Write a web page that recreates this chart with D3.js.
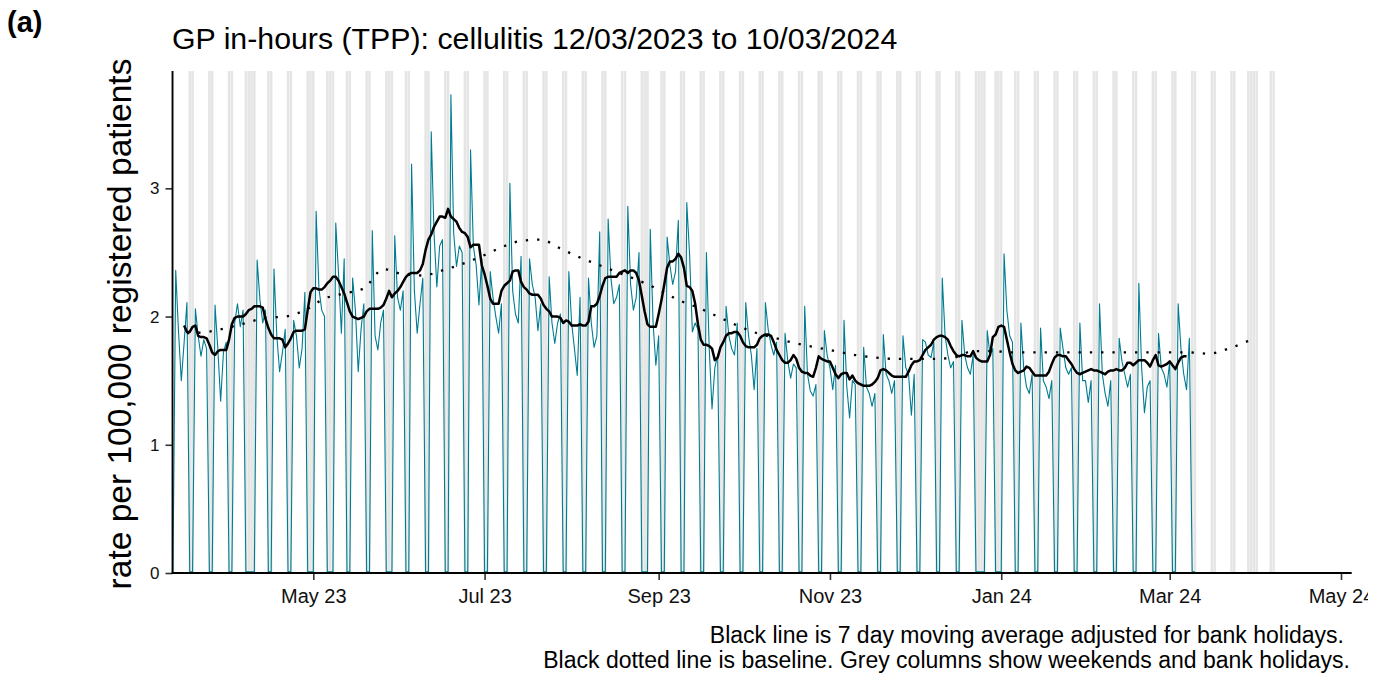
<!DOCTYPE html>
<html><head><meta charset="utf-8">
<script src="https://cdn.jsdelivr.net/npm/d3@7"></script>
<style>
body{margin:0;background:#fff}
svg{display:block}
text{font-family:"Liberation Sans",Arial,Helvetica,sans-serif}
</style>
</head><body>
<svg id="chart" width="1391" height="675"></svg>
<script>
// ---------------- DATA ----------------
const startDate = "2023-03-12";   // first day of daily series (Sunday)
// daily rate per 100,000 (Mon..Sun rows after the first Sunday); weekends & bank holidays ~0
const dailyRate = [
  0.01,
  2.36,1.88,1.50,1.80,2.11,0.01,0.01,
  2.06,1.85,1.69,1.82,1.75,0.01,0.01,
  2.09,1.75,1.34,1.72,1.80,0.01,0.01,
  1.95,2.10,1.92,2.05,0.01,0.01,0.01,
  0.01,2.44,2.13,1.95,2.05,0.01,0.01,
  2.37,1.85,1.57,1.72,1.90,0.01,0.01,
  1.97,1.85,1.60,1.75,2.19,0.01,0.01,
  0.01,2.82,2.22,2.05,2.00,0.01,0.01,
  0.01,2.73,2.33,1.87,2.45,0.01,0.01,
  2.30,2.05,1.57,1.90,2.10,0.01,0.01,
  2.67,1.85,1.74,1.95,2.05,0.01,0.01,
  0.01,2.63,2.15,2.05,2.20,0.01,0.01,
  3.19,2.20,1.87,2.10,2.30,0.01,0.01,
  3.44,2.65,2.23,2.55,2.60,0.01,0.01,
  3.73,2.65,2.39,2.55,2.50,0.01,0.01,
  3.30,2.55,2.40,2.09,2.45,0.01,0.01,
  2.35,2.15,2.00,1.87,2.10,0.01,0.01,
  3.04,2.20,2.02,1.95,2.47,0.01,0.01,
  2.45,2.25,2.15,1.89,2.10,0.01,0.01,
  2.31,1.95,1.79,1.95,2.02,0.01,0.01,
  2.35,1.95,1.75,1.54,2.15,0.01,0.01,
  2.30,1.95,1.76,1.85,2.66,0.01,0.01,
  2.76,2.30,2.10,2.15,2.25,0.01,0.01,
  2.86,2.25,2.05,2.15,2.50,0.01,0.01,
  0.01,2.68,1.95,1.62,1.85,0.01,0.01,
  2.62,2.40,2.25,2.35,2.75,0.01,0.01,
  2.89,2.49,1.88,1.95,1.90,0.01,0.01,
  2.50,1.75,1.28,1.60,1.70,0.01,0.01,
  2.08,1.85,1.75,1.70,1.95,0.01,0.01,
  2.11,1.85,1.70,1.43,1.75,0.01,0.01,
  2.11,1.90,1.78,1.70,1.80,0.01,0.01,
  1.87,1.65,1.52,1.63,1.60,0.01,0.01,
  2.08,1.55,1.42,1.38,1.47,0.01,0.01,
  1.89,1.70,1.60,1.43,1.62,0.01,0.01,
  1.97,1.45,1.21,1.50,1.47,0.01,0.01,
  1.76,1.45,1.40,1.30,1.40,0.01,0.01,
  1.86,1.55,1.50,1.40,1.50,0.01,0.01,
  1.85,1.60,1.55,1.23,1.55,0.01,0.01,
  1.82,1.80,1.70,1.68,1.80,0.01,0.01,
  2.30,1.85,1.70,1.60,1.65,0.01,0.01,
  1.97,1.70,1.60,1.55,1.70,0.01,0.01,
  0.01,0.01,1.89,1.70,1.75,0.01,0.01,
  0.01,2.49,2.05,1.85,1.80,0.01,0.01,
  1.95,1.60,1.45,1.40,1.55,0.01,0.01,
  1.91,1.50,1.45,1.36,1.50,0.01,0.01,
  1.91,1.75,1.60,1.55,1.60,0.01,0.01,
  1.95,1.50,1.50,1.33,1.50,0.01,0.01,
  2.10,1.55,1.40,1.30,1.50,0.01,0.01,
  1.83,1.65,1.55,1.45,1.55,0.01,0.01,
  2.26,1.60,1.25,1.45,1.50,0.01,0.01,
  1.87,1.60,1.55,1.45,1.65,0.01,0.01,
  2.10,1.75,1.55,1.43,1.83,0.01,0.01
];

const maStart = "2023-03-16";     // 7 day moving average, daily
const movingAvg = [
  1.93,1.88,1.88,1.92,1.93,1.85,1.84,1.84,1.83,1.78,
  1.72,1.70,1.73,1.74,1.74,1.74,1.82,1.94,1.99,2.00,
  2.00,2.00,2.02,2.05,2.06,2.08,2.08,2.08,2.07,1.98,
  1.91,1.86,1.83,1.83,1.83,1.82,1.76,1.79,1.83,1.88,
  1.89,1.89,1.89,1.90,2.05,2.19,2.22,2.22,2.21,2.21,
  2.23,2.26,2.28,2.31,2.31,2.28,2.23,2.18,2.11,2.04,
  2.00,1.99,1.98,1.99,2.00,2.04,2.06,2.06,2.06,2.06,
  2.07,2.09,2.14,2.20,2.15,2.18,2.20,2.23,2.27,2.31,
  2.33,2.34,2.34,2.34,2.36,2.41,2.52,2.60,2.64,2.70,
  2.74,2.78,2.78,2.77,2.84,2.78,2.76,2.74,2.69,2.66,
  2.65,2.62,2.54,2.56,2.56,2.56,2.40,2.33,2.24,2.14,
  2.10,2.10,2.10,2.20,2.24,2.26,2.28,2.35,2.36,2.36,
  2.27,2.23,2.21,2.18,2.17,2.17,2.17,2.14,2.09,2.06,
  2.04,2.00,2.00,2.00,1.99,1.95,1.97,1.96,1.93,1.93,
  1.93,1.94,1.93,1.93,1.96,2.08,2.08,2.10,2.16,2.24,
  2.30,2.31,2.31,2.31,2.31,2.34,2.35,2.36,2.34,2.36,
  2.36,2.34,2.28,2.16,2.04,1.94,1.92,1.92,1.92,2.02,
  2.13,2.25,2.38,2.43,2.43,2.45,2.49,2.46,2.38,2.24,
  2.23,2.20,2.10,1.94,1.82,1.78,1.78,1.77,1.75,1.66,
  1.68,1.76,1.80,1.85,1.87,1.87,1.88,1.88,1.85,1.80,
  1.77,1.76,1.76,1.76,1.78,1.83,1.85,1.86,1.86,1.85,
  1.80,1.74,1.70,1.66,1.64,1.64,1.66,1.70,1.67,1.60,
  1.57,1.56,1.56,1.54,1.53,1.60,1.69,1.67,1.66,1.65,
  1.65,1.60,1.55,1.52,1.55,1.56,1.56,1.51,1.54,1.50,
  1.48,1.47,1.46,1.46,1.46,1.47,1.49,1.52,1.58,1.59,
  1.58,1.56,1.54,1.53,1.53,1.53,1.53,1.53,1.57,1.62,
  1.65,1.65,1.66,1.70,1.74,1.76,1.78,1.82,1.84,1.85,
  1.85,1.84,1.82,1.77,1.73,1.70,1.69,1.70,1.70,1.69,
  1.69,1.73,1.68,1.66,1.65,1.65,1.65,1.70,1.84,1.86,
  1.92,1.93,1.92,1.82,1.72,1.63,1.58,1.56,1.57,1.58,
  1.61,1.60,1.57,1.54,1.54,1.54,1.54,1.54,1.57,1.63,
  1.68,1.70,1.70,1.69,1.69,1.66,1.63,1.59,1.56,1.55,
  1.56,1.57,1.58,1.59,1.58,1.58,1.57,1.56,1.55,1.57,
  1.58,1.58,1.59,1.58,1.58,1.60,1.64,1.64,1.62,1.64,
  1.66,1.66,1.66,1.64,1.61,1.66,1.70,1.62,1.61,1.62,
  1.63,1.65,1.62,1.59,1.64,1.68,1.69,1.69
];

const baselineStart = "2023-03-17"; // baseline, one value per week
const baselineStepDays = 7;
const baselineRate = [
  1.87,1.88,1.91,1.95,1.99,2.00,2.05,2.14,2.18,2.22,
  2.37,2.33,2.32,2.36,2.41,2.47,2.54,2.59,2.60,2.53,
  2.46,2.40,2.34,2.28,2.21,2.13,2.07,2.00,1.93,1.87,
  1.83,1.79,1.76,1.73,1.70,1.68,1.67,1.67,1.67,1.68,
  1.73,1.73,1.72,1.72,1.72,1.72,1.72,1.72,1.72,1.72,
  1.72,1.72,1.71,1.75,1.81
];

const bankHolidays = ["2023-04-07","2023-04-10","2023-05-01","2023-05-08","2023-05-29",
  "2023-08-28","2023-12-25","2023-12-26","2024-01-01","2024-03-29","2024-04-01"];
const shadeEnd = "2024-04-07";
const xTickDates = ["2023-05-01","2023-07-01","2023-09-01","2023-11-01","2024-01-01","2024-03-01","2024-05-01"];
const yTicks = [0,1,2,3];

const panelTag = "(a)";
const titleText = "GP in-hours (TPP): cellulitis 12/03/2023 to 10/03/2024";
const yLabel = "rate per 100,000 registered patients";
const captionLines = ["Black line is 7 day moving average adjusted for bank holidays.",
  "Black dotted line is baseline. Grey columns show weekends and bank holidays."];

// ---------------- DRAW ----------------
const parse = d3.utcParse("%Y-%m-%d");
const day = d3.utcDay;
const svg = d3.select("#chart");

const L = 172.5, R = 1351.7, T = 71, B = 573, CLIPX = 1368;
const x0 = d3.scaleUtc().domain([parse("2023-05-01"), parse("2024-05-01")]).range([313.3, 1341]);
const x = d3.scaleUtc().domain([x0.invert(L), x0.invert(R)]).range([L, R]);
const y = d3.scaleLinear().domain([0, 3.915]).range([B, T]);

svg.append("defs").append("clipPath").attr("id", "figclip")
  .append("rect").attr("x", 0).attr("y", 0).attr("width", CLIPX).attr("height", 675);
const fig = svg.append("g").attr("clip-path", "url(#figclip)");

// grey columns
const bh = new Set(bankHolidays);
const fmt = d3.utcFormat("%Y-%m-%d");
const shadeDays = day.range(parse(startDate), day.offset(parse(shadeEnd), 1))
  .filter(d => d.getUTCDay() === 0 || d.getUTCDay() === 6 || bh.has(fmt(d)));
const halfW = 0.45 * 864e5;
fig.append("g").selectAll("rect").data(shadeDays).join("rect")
  .attr("x", d => x(new Date(+d - halfW)))
  .attr("width", d => x(new Date(+d + halfW)) - x(new Date(+d - halfW)))
  .attr("y", T).attr("height", B - T)
  .attr("fill", "#e5e5e5");

// daily line
const daily = dailyRate.map((v, i) => ({d: day.offset(parse(startDate), i), v}));
fig.append("path").datum(daily)
  .attr("fill", "none").attr("stroke", "#007C91").attr("stroke-width", 1.1)
  .attr("stroke-linejoin", "round")
  .attr("d", d3.line().x(p => x(p.d)).y(p => y(p.v)));

// moving average
const ma = movingAvg.map((v, i) => ({d: day.offset(parse(maStart), i), v}));
fig.append("path").datum(ma)
  .attr("fill", "none").attr("stroke", "#000").attr("stroke-width", 2.5)
  .attr("stroke-linejoin", "round")
  .attr("d", d3.line().x(p => x(p.d)).y(p => y(p.v)));

// baseline
const base = baselineRate.map((v, i) => ({d: day.offset(parse(baselineStart), i * baselineStepDays), v}));
fig.append("path").datum(base)
  .attr("fill", "none").attr("stroke", "#000").attr("stroke-width", 2.3)
  .attr("stroke-dasharray", "2.3,9")
  .attr("d", d3.line().curve(d3.curveMonotoneX).x(p => x(p.d)).y(p => y(p.v)));

// axes
const xAxis = d3.axisBottom(x).tickValues(xTickDates.map(parse))
  .tickFormat(d3.utcFormat("%b %y")).tickSize(7).tickPadding(9);
const gx = fig.append("g").attr("transform", `translate(0,${B})`).call(xAxis);
gx.select(".domain").remove();
gx.selectAll(".tick line").attr("stroke", "#333").attr("stroke-width", 1.6);
gx.selectAll(".tick text").attr("fill", "#111").style("font-size", "20px")
  .style("font-family", '"Liberation Sans",Arial,sans-serif');

const yAxis = d3.axisLeft(y).tickValues(yTicks).tickFormat(d3.format("d")).tickSize(7).tickPadding(6);
const gy = fig.append("g").attr("transform", `translate(${L},0)`).call(yAxis);
gy.select(".domain").remove();
gy.selectAll(".tick line").attr("stroke", "#333").attr("stroke-width", 1.6);
gy.selectAll(".tick text").attr("fill", "#111").style("font-size", "17px")
  .style("font-family", '"Liberation Sans",Arial,sans-serif');

fig.append("line").attr("x1", L).attr("x2", L).attr("y1", T).attr("y2", B + 0.8)
  .attr("stroke", "#000").attr("stroke-width", 1.8);
fig.append("line").attr("x1", L - 0.8).attr("x2", R).attr("y1", B).attr("y2", B)
  .attr("stroke", "#000").attr("stroke-width", 1.8);

// texts
fig.append("text").attr("x", 7).attr("y", 32).attr("font-weight", "bold")
  .attr("font-size", 29).attr("fill", "#000").text(panelTag);
fig.append("text").attr("x", 172).attr("y", 49).attr("font-size", 30.3)
  .attr("fill", "#000").text(titleText);
fig.append("text").attr("transform", `translate(131,${(T + B) / 2 + 2}) rotate(-90)`)
  .attr("text-anchor", "middle").attr("font-size", 33.5).attr("fill", "#000").text(yLabel);
const capRight = [1344, 1350];
fig.append("g").selectAll("text").data(captionLines).join("text")
  .attr("x", (d, i) => capRight[i]).attr("y", (d, i) => 643 + i * 24.5)
  .attr("text-anchor", "end").attr("font-size", 23).attr("fill", "#000").text(d => d);
</script>
</body></html>
